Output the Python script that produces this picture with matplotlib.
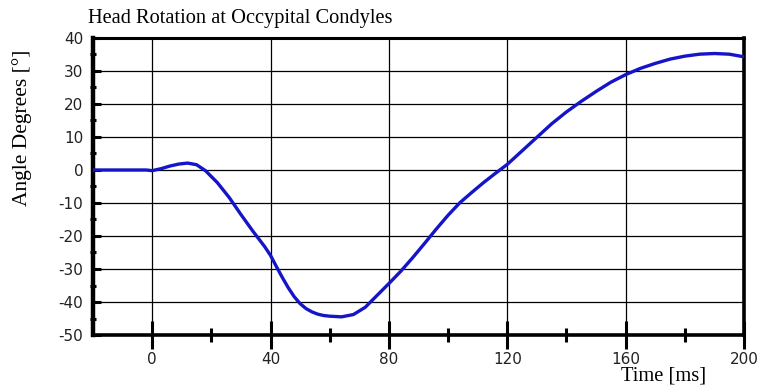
import matplotlib
matplotlib.use("Agg")
import matplotlib.pyplot as plt
from matplotlib.ticker import MultipleLocator, FixedLocator

# Data
time_ms = [-20, -10, -2, 0, 3, 6, 9, 12, 15, 18, 22, 26, 30, 34, 38, 40, 42, 44,
           46, 48, 50, 52, 54, 56, 58, 60, 64, 68, 72, 76, 80, 84, 88, 92, 96,
           100, 104, 108, 112, 116, 120, 125, 130, 135, 140, 145, 150, 155,
           160, 165, 170, 175, 180, 185, 190, 195, 200]
angle_deg = [0, 0, 0, -0.2, 0.4, 1.2, 1.8, 2.1, 1.6, -0.2, -3.8, -8.3, -13.5,
             -18.5, -23.2, -25.9, -29.3, -32.6, -35.7, -38.4, -40.5, -42.0,
             -43.0, -43.7, -44.1, -44.3, -44.5, -43.8, -41.6, -38.0, -34.4,
             -30.7, -26.6, -22.3, -17.9, -13.7, -9.9, -6.8, -3.8, -1.0, 1.7,
             5.8, 9.9, 14.0, 17.6, 20.8, 23.8, 26.6, 28.9, 30.8, 32.3, 33.6,
             34.5, 35.1, 35.3, 35.1, 34.3]

x_major = [0, 40, 80, 120, 160, 200]
x_minor = [20, 60, 100, 140, 180]
y_major = [-50, -40, -30, -20, -10, 0, 10, 20, 30, 40]

title = "Head Rotation at Occypital Condyles"
ylabel = "Angle Degrees [°]"
xlabel = "Time [ms]"

W, H = 757, 390
fig = plt.figure(figsize=(W / 100, H / 100), dpi=100)
ax = fig.add_axes([93 / W, 1 - 335 / H, (744 - 93) / W, (335 - 38) / H])

ax.plot(time_ms, angle_deg, color="#1414c8", lw=2.4, solid_capstyle="round",
        solid_joinstyle="round", zorder=3)

ax.set_xlim(-20, 200)
ax.set_ylim(-50, 40)

# grid
for xv in [0, 40, 80, 120, 160]:
    ax.axvline(xv, color="black", lw=0.9, zorder=1)
for yv in [-40, -30, -20, -10, 0, 10, 20, 30]:
    ax.axhline(yv, color="black", lw=0.9, zorder=1)

ax.spines["left"].set_linewidth(3.2)
ax.spines["bottom"].set_linewidth(2.6)
ax.spines["top"].set_linewidth(2.2)
ax.spines["right"].set_linewidth(2.6)

tick_font = ["Liberation Sans Narrow", "DejaVu Sans"]

ax.xaxis.set_major_locator(FixedLocator(x_major))
ax.xaxis.set_minor_locator(FixedLocator(x_minor))
ax.yaxis.set_major_locator(FixedLocator(y_major))
ax.yaxis.set_minor_locator(MultipleLocator(5))

ax.tick_params(axis="x", which="major", direction="inout", length=20, width=2.2,
               pad=2, labelsize=11, colors="black")
ax.tick_params(axis="x", which="minor", direction="inout", length=9.5, width=2.2)
ax.tick_params(axis="y", which="major", direction="in", length=5.5, width=2.2,
               pad=7, labelsize=11)
ax.tick_params(axis="y", which="minor", direction="inout", length=4, width=2.2)

ax.set_xticklabels([str(v) for v in x_major], family=tick_font, color="#222222")
ax.set_yticklabels([str(v) for v in y_major], family=tick_font, color="#222222")

serif = ["Liberation Serif", "DejaVu Serif"]
fig.text(88 / W, 1 - 19 / H, title, family=serif, fontsize=14.7,
         ha="left", va="center")
fig.text(22 / W, 1 - 128 / H, ylabel, family=serif, fontsize=15.5,
         rotation=90, ha="center", va="center")
fig.text(664 / W, 1 - 376 / H, xlabel, family=serif, fontsize=14.8,
         ha="center", va="center")

fig.savefig("out.png", dpi=100)
